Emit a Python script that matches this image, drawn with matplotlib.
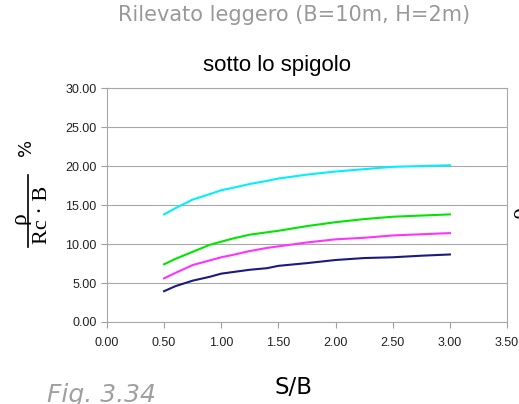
import numpy as np
import matplotlib.pyplot as plt
from matplotlib.lines import Line2D

# S/B values and curves
sb = [0.5, 0.6, 0.75, 0.9, 1.0, 1.1, 1.25, 1.4, 1.5, 1.75, 2.0, 2.25, 2.5, 2.75, 3.0]
cyan = [13.8, 14.6, 15.7, 16.4, 16.9, 17.2, 17.7, 18.1, 18.4, 18.9, 19.3, 19.6, 19.9, 20.0, 20.1]
green = [7.4, 8.1, 9.0, 9.9, 10.3, 10.7, 11.2, 11.5, 11.7, 12.3, 12.8, 13.2, 13.5, 13.65, 13.8]
magenta = [5.6, 6.3, 7.3, 7.9, 8.3, 8.6, 9.1, 9.5, 9.7, 10.2, 10.6, 10.8, 11.1, 11.25, 11.4]
navy = [3.95, 4.6, 5.3, 5.8, 6.2, 6.4, 6.7, 6.9, 7.2, 7.55, 7.95, 8.2, 8.3, 8.5, 8.66]

xticks = np.arange(0, 3.51, 0.5)
yticks = np.arange(0, 30.1, 5)

fig = plt.figure(figsize=(5.19, 4.04), dpi=100)
ax = fig.add_axes([0.206, 0.203, 0.771, 0.579])

ax.plot(sb, cyan, color='#00f0ff', lw=1.5)
ax.plot(sb, green, color='#00e600', lw=1.5)
ax.plot(sb, magenta, color='#ff33ff', lw=1.5)
ax.plot(sb, navy, color='#1a1a80', lw=1.5)

ax.set_xlim(0, 3.5)
ax.set_ylim(0, 30)
ax.set_xticks(xticks)
ax.set_yticks(yticks)
ax.set_xticklabels(['%.2f' % v for v in xticks], fontsize=9, family='Liberation Sans', color='#222222')
ax.set_yticklabels(['%.2f' % v for v in yticks], fontsize=9, family='Liberation Sans', color='#222222')
ax.tick_params(length=4, color='#a0a0a0', width=0.8)
ax.tick_params(axis='x', pad=7)
ax.grid(axis='y', color='#a8a8a8', lw=0.8)
for s in ax.spines.values():
    s.set_color('#a8a8a8')
    s.set_linewidth(0.8)

fig.text(0.566, 0.963, 'Rilevato leggero (B=10m, H=2m)', ha='center', va='center',
         fontsize=15, color='#999999', family='DejaVu Sans')
fig.text(0.534, 0.839, 'sotto lo spigolo', ha='center', va='center',
         fontsize=16, color='black', family='Liberation Sans')
fig.text(0.566, 0.042, 'S/B', ha='center', va='center', fontsize=16.5, family='DejaVu Sans')
fig.text(0.195, 0.004, 'Fig. 3.34', ha='center', va='baseline', fontsize=18,
         style='italic', color='#a0a0a0', family='DejaVu Sans')

# y label: rho over Rc.B, written sideways
fig.text(0.0385, 0.46, 'ρ', rotation=90, ha='center', va='center', fontsize=17,
         family='Liberation Serif')
fig.add_artist(Line2D([0.054, 0.054], [0.389, 0.567], color='black', lw=1.2))
fig.text(0.081, 0.468, 'Rc · B', rotation=90, ha='center', va='center', fontsize=16,
         family='Liberation Serif')
fig.text(0.050, 0.636, '%', rotation=90, ha='center', va='center', fontsize=13,
         family='DejaVu Sans')
fig.text(1.0, 0.475, 'ρ', rotation=90, ha='center', va='center', fontsize=17,
         family='Liberation Serif')

fig.savefig('out.png', dpi=100)
